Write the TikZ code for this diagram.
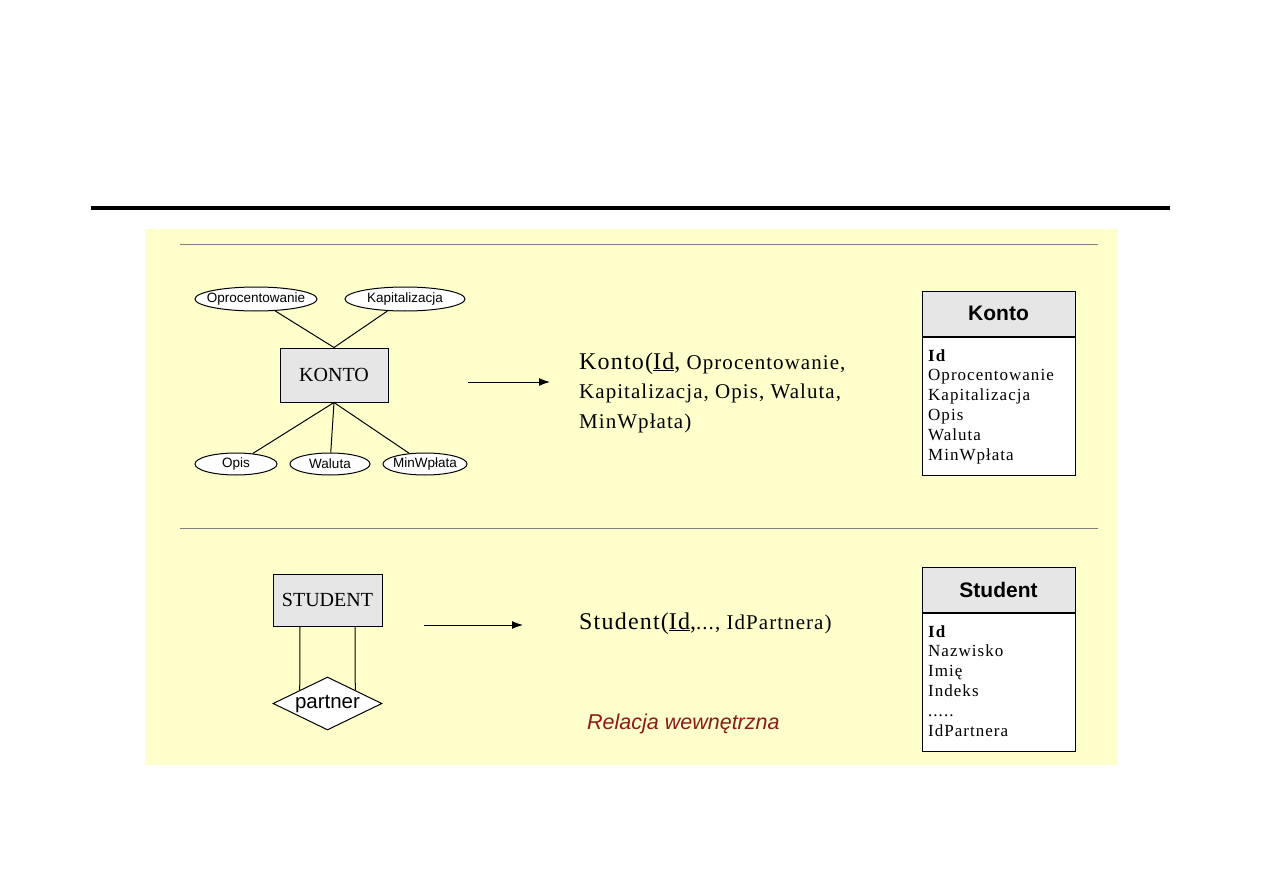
\documentclass[tikz,border=0pt]{standalone}
\usepackage{fontspec}
\setmainfont{Liberation Serif}
\newfontfamily\arial{Liberation Sans}
\newfontfamily\wideserif[LetterSpace=5]{Liberation Serif}
\newfontfamily\tableserif[LetterSpace=6]{Liberation Serif}
\usetikzlibrary{shapes.geometric,arrows.meta,calc}
\definecolor{bgyellow}{HTML}{FFFFCC}
\definecolor{hdrgray}{HTML}{E6E6E6}
\definecolor{rulegray}{HTML}{808080}
\definecolor{darkred}{HTML}{8C1A1A}
\newcommand{\fs}[2]{\fontsize{#1}{#2}\selectfont}
\newcommand{\zw}[1]{\makebox[0pt]{#1}}
\tikzset{
  attr/.style={ellipse,draw,fill=white,inner sep=0pt,line width=1pt,font=\arial\fs{13.5}{15}},
  entity/.style={rectangle,draw,fill=hdrgray,inner sep=0pt,line width=1pt,font=\fs{20}{22}},
  rel/.style={diamond,draw,fill=white,inner sep=0pt,line width=1pt,font=\arial\fs{20.5}{22}},
  link/.style={line width=1pt},
  arr/.style={line width=1pt,-{Latex[length=11pt,width=8pt]}},
  thdr/.style={rectangle,draw,fill=hdrgray,inner sep=0pt,line width=1pt,minimum width=153pt,minimum height=45pt,font=\arial\bfseries\fs{21}{23}},
  tbody/.style={rectangle,draw,fill=white,inner sep=0pt,line width=1pt,minimum width=153pt},
  tlist/.style={anchor=base west,align=left,inner sep=0pt,font=\tableserif\fs{17}{19.8}},
  reltext/.style={anchor=base west,align=left,inner sep=0pt,font=\wideserif\fs{21}{29.5}},
}
\begin{document}
\begin{tikzpicture}[x=1pt,y=-1pt]
\useasboundingbox (0,0) rectangle (1263,893);
\fill[white] (0,0) rectangle (1263,893);
\draw[line width=4pt] (91,208) -- (1170,208);
\fill[bgyellow] (145,229) rectangle (1118,765);
\draw[rulegray,line width=0.8pt] (180,244) -- (1098,244);
\draw[rulegray,line width=0.8pt] (180,528) -- (1098,528);

% KONTO ER diagram
\node[entity,minimum width=108pt,minimum height=54pt] (konto) at (334,375) {KONTO};
\node[attr,minimum width=122pt,minimum height=24pt] (opr) at (256,299) {\zw{Oprocentowanie}};
\node[attr,minimum width=120pt,minimum height=24pt] (kap) at (405,299) {\zw{Kapitalizacja}};
\node[attr,minimum width=82pt,minimum height=22pt] (opis) at (236,464) {\zw{Opis}};
\node[attr,minimum width=80pt,minimum height=22pt] (wal) at (330,464) {\zw{Waluta}};
\node[attr,minimum width=84pt,minimum height=22pt] (minw) at (425,464) {\zw{MinWpłata}};
\draw[link] (konto.north) -- (opr);
\draw[link] (konto.north) -- (kap);
\draw[link] (konto.south) -- (opis);
\draw[link] (konto.south) -- (wal);
\draw[link] (konto.south) -- (minw);

\coordinate (a1s) at (468,382);
\coordinate (a1e) at (550,382);
\draw[arr] (a1s) -- (a1e);

\node[reltext] (kontorel) at (579,428) {{\fs{24}{29.5}Konto(\underline{Id},} Oprocentowanie,\\Kapitalizacja, Opis, Waluta,\\MinWpłata)};

% Konto table
\node[thdr] (kontohdr) at (998.5,313.5) {Konto};
\node[tbody,minimum height=138pt,anchor=north] (kontobody) at (kontohdr.south) {};
\node[tlist] (kontolist) at (928,460) {\textbf{Id}\\Oprocentowanie\\Kapitalizacja\\Opis\\Waluta\\MinWpłata};

% STUDENT ER diagram
\node[entity,minimum width=109pt,minimum height=52pt] (student) at (327.5,600) {STUDENT};
\node[rel,minimum width=109pt,minimum height=53pt,aspect=2.05] (partner) at (327.5,703.5) {partner};
\draw[link] ([xshift=-27.5pt]student.south) -- ($(partner.west)!0.495!(partner.north)$);
\draw[link] ([xshift=27.5pt]student.south) -- ($(partner.north)!0.505!(partner.east)$);

\coordinate (a2s) at (424,625);
\coordinate (a2e) at (523,625);
\draw[arr] (a2s) -- (a2e);

\node[reltext] (studrel) at (579,629) {{\fs{24}{29.5}Student(\underline{Id},}..., IdPartnera)};
\node[anchor=base west,inner sep=0pt,text=darkred,font=\arial\itshape\fs{21.5}{23}] (relw) at (587,729) {Relacja wewnętrzna};

% Student table
\node[thdr] (studhdr) at (998.5,589.5) {Student};
\node[tbody,minimum height=138pt,anchor=north] (studbody) at (studhdr.south) {};
\node[tlist] (studlist) at (928,736) {\textbf{Id}\\Nazwisko\\Imię\\Indeks\\.....\\IdPartnera};
\end{tikzpicture}
\end{document}
